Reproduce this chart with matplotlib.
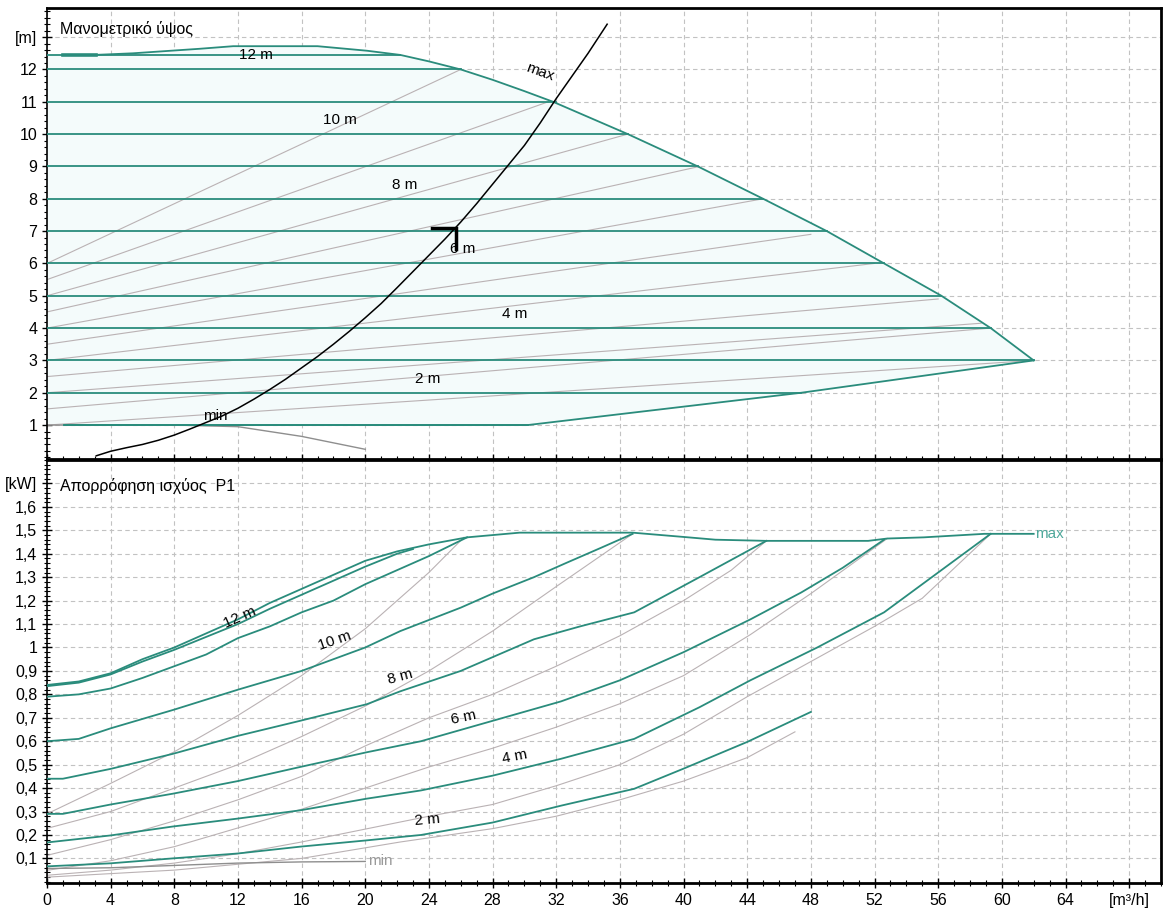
import numpy as np
import matplotlib
matplotlib.use("Agg")
import matplotlib.pyplot as plt
from matplotlib.ticker import MultipleLocator

plt.rcParams['font.family'] = ['Liberation Sans', 'DejaVu Sans']

TEAL = "#2a8c7c"
GREY = "#bab2b4"
DARKGREY = "#8e8e8e"

# ---------------- head chart data [m] vs flow [m3/h] ----------------
h_levels = [1, 2, 3, 4, 5, 6, 7, 8, 9, 10, 11, 12, 12.45]
h_start = [1.1, 0, 0, 0, 0, 0, 0, 0, 0, 0, 0, 0, 0]
h_end = [30.2, 47.4, 62, 59.3, 56.2, 52.6, 49, 45, 40.9, 36.5, 32, 26, 22.2]

max_q = [3, 5.4, 9.6, 11.7, 17, 20.1, 22.2, 24, 26, 28, 30, 31.8,
         36.5, 40.9, 45, 49, 52.6, 56.2, 59.3, 62]
max_h = [12.45, 12.5, 12.64, 12.72, 12.72, 12.58, 12.45, 12.25, 12.0, 11.68,
         11.33, 11.0, 10.0, 9.0, 8.0, 7.0, 6.0, 5.0, 4.0, 3.0]
low_q = [62, 47.4, 30.2, 1.1]
low_h = [3.0, 2.0, 1.0, 1.0]

# proportional-pressure curves (start head at Q=0, end point on envelope)
pp_h0 = [6, 5.5, 5, 4.5, 4, 3.5, 3, 2.5, 2, 1.5, 1]
pp_qe = [26, 31.5, 36.5, 41, 45, 48, 52, 56, 58.7, 59.3, 62]
pp_he = [12, 11, 10, 9, 8, 6.9, 6, 4.9, 4.15, 4.0, 3.0]

min_q = [0, 8, 12, 16, 20]
min_h = [1.0, 1.0, 0.95, 0.65, 0.25]

sys_q = [3.1, 4, 5, 6, 7, 8, 9, 10, 11, 12, 13, 14, 15, 16, 17, 18, 19, 20,
         21, 22, 23, 24, 25, 26, 27, 28, 29, 30, 31, 32, 33, 34, 35.2]
sys_h = [0.05, 0.19, 0.3, 0.4, 0.53, 0.69, 0.88, 1.08, 1.28, 1.52, 1.8, 2.1,
         2.42, 2.77, 3.12, 3.5, 3.9, 4.32, 4.76, 5.25, 5.75, 6.25, 6.75, 7.28,
         7.85, 8.45, 9.05, 9.65, 10.35, 11.1, 11.8, 12.5, 13.4]
duty_q, duty_h, duty_h_low, duty_q_left = 25.7, 7.1, 6.45, 24.2

head_labels = ["12 m", "10 m", "8 m", "6 m", "4 m", "2 m"]
head_lab_q = [13.1, 18.4, 22.5, 26.1, 29.4, 23.9]
head_lab_h = [12.45, 10.45, 8.44, 6.46, 4.45, 2.44]

# ---------------- power chart data [kW] ----------------
p_max_q = [0, 2, 4, 6, 8, 10, 12, 14, 16, 18, 20, 22, 24, 26.4, 29.7, 36.8,
           40.3, 42, 45.2, 51.6, 52.8, 55.1, 58.9, 62]
p_max_p = [0.84, 0.855, 0.89, 0.95, 1.0, 1.06, 1.12, 1.19, 1.25, 1.31, 1.37,
           1.41, 1.44, 1.47, 1.49, 1.49, 1.47, 1.46, 1.455, 1.455, 1.465,
           1.47, 1.485, 1.485]

p_curves_q = [
    [0, 2, 4, 6, 8, 10, 12, 14, 16, 18, 20, 22, 23],
    [0, 2, 4, 6, 8, 10, 12, 14, 16, 18, 20, 22, 24, 26.4],
    [0, 2, 4, 8, 12, 16, 18, 20, 22.2, 26, 28, 30.6, 32.6, 34.8, 36.8],
    [0, 1, 4, 7.9, 12, 15.9, 20.1, 22.2, 26, 30.6, 33.5, 36.9, 41, 45.2],
    [0, 1, 4, 7.9, 12, 15.9, 20.1, 23.5, 28, 32.3, 36, 40, 44.2, 47.4, 50, 52.6],
    [0, 4, 7.9, 12, 15.9, 20.1, 23.5, 28, 32.3, 36.9, 41, 44.2, 48.4, 52.6, 56, 59.3],
    [0, 4, 7.9, 12, 15.9, 20.1, 23.5, 28, 32.3, 36.9, 40, 44, 48],
]
p_curves_p = [
    [0.835, 0.85, 0.885, 0.94, 0.99, 1.045, 1.1, 1.165, 1.225, 1.285, 1.345, 1.40, 1.42],
    [0.79, 0.80, 0.825, 0.87, 0.92, 0.97, 1.04, 1.09, 1.15, 1.2, 1.27, 1.33, 1.39, 1.47],
    [0.60, 0.61, 0.655, 0.735, 0.82, 0.90, 0.95, 1.0, 1.07, 1.17, 1.23, 1.30, 1.36, 1.425, 1.485],
    [0.44, 0.44, 0.482, 0.546, 0.623, 0.687, 0.758, 0.813, 0.9, 1.035, 1.09, 1.15, 1.30, 1.455],
    [0.29, 0.29, 0.33, 0.376, 0.43, 0.49, 0.553, 0.60, 0.687, 0.77, 0.86, 0.98, 1.12, 1.235, 1.34, 1.46],
    [0.168, 0.198, 0.236, 0.27, 0.305, 0.355, 0.39, 0.453, 0.525, 0.61, 0.745, 0.86, 1.0, 1.15, 1.32, 1.485],
    [0.066, 0.079, 0.10, 0.121, 0.15, 0.177, 0.20, 0.253, 0.325, 0.397, 0.483, 0.597, 0.725],
]

pg_q = [
    [0, 4, 8, 12, 16, 20, 24, 26.2],
    [0, 4, 8, 12, 16, 20, 24, 28, 32, 36.8],
    [0, 4, 8, 12, 16, 20, 24, 28, 32, 36, 40, 43, 45.2],
    [0, 4, 8, 12, 16, 20, 24, 28, 32, 36, 40, 44.2, 48, 52.8],
    [0, 4, 8, 12, 16, 20, 24, 28, 32, 36, 40, 44, 48, 52, 55, 59.3],
    [0, 8, 16, 22.2, 28, 32, 36, 40, 44, 47],
]
pg_p = [
    [0.29, 0.42, 0.555, 0.71, 0.88, 1.08, 1.32, 1.47],
    [0.228, 0.30, 0.40, 0.50, 0.62, 0.75, 0.90, 1.07, 1.26, 1.485],
    [0.113, 0.18, 0.26, 0.35, 0.45, 0.58, 0.70, 0.80, 0.92, 1.05, 1.2, 1.33, 1.455],
    [0.049, 0.09, 0.15, 0.23, 0.31, 0.40, 0.49, 0.57, 0.66, 0.76, 0.88, 1.055, 1.23, 1.465],
    [0.028, 0.05, 0.08, 0.12, 0.17, 0.225, 0.28, 0.33, 0.41, 0.50, 0.63, 0.79, 0.94, 1.09, 1.21, 1.485],
    [0.02, 0.05, 0.10, 0.17, 0.227, 0.28, 0.35, 0.43, 0.53, 0.64],
]
p_min_q = [0, 4, 8, 12, 16, 20]
p_min_p = [0.057, 0.06, 0.07, 0.08, 0.085, 0.087]

power_labels = ["12 m", "10 m", "8 m", "6 m", "4 m", "2 m"]
power_lab_q = [12.1, 18.1, 22.2, 26.2, 29.4, 23.9]
power_lab_p = [1.128, 1.027, 0.873, 0.70, 0.533, 0.266]
power_lab_rot = [24, 19, 15, 12, 11, 5]

x_ticks = list(range(0, 69, 4))
x_labels = [str(v) for v in range(0, 65, 4)] + ["[m³/h]"]
h_ticks = list(range(1, 14))
h_tick_labels = [str(v) for v in range(1, 13)] + ["[m]"]
p_ticks = [round(0.1 * i, 1) for i in range(1, 18)]
p_tick_labels = [("%g" % v).replace(".", ",") for v in p_ticks[:-1]] + ["[kW]"]

# ---------------- figure ----------------
fig = plt.figure(figsize=(11.68, 9.14), dpi=100)
ax1 = fig.add_axes([0.0402, 0.4978, 0.9538, 0.4934])
ax2 = fig.add_axes([0.0402, 0.0334, 0.9538, 0.4633])


def style(ax):
    ax.set_xlim(0, 70)
    ax.set_xticks(x_ticks)
    ax.xaxis.set_minor_locator(MultipleLocator(1))
    ax.grid(True, which="major", color="#c2c2c2", linestyle=(0, (4, 3)), linewidth=0.8)
    ax.set_axisbelow(True)
    for side in ["top", "right", "bottom"]:
        ax.spines[side].set_linewidth(2)
    ax.spines["left"].set_linewidth(1.2)
    ax.tick_params(which="major", direction="inout", length=7, width=1, labelsize=11.5)
    ax.tick_params(which="minor", direction="inout", length=4, width=0.8)


style(ax1)
style(ax2)

# head chart
ax1.set_ylim(-0.05, 13.9)
ax1.set_yticks(h_ticks)
ax1.set_yticklabels(h_tick_labels)
ax1.yaxis.set_minor_locator(MultipleLocator(0.2))
ax1.set_xticklabels([])

env_q = [0] + max_q + low_q + [0]
env_h = [12.45] + max_h + low_h + [1.0]
ax1.fill(env_q, env_h, color="#f4fbfb", zorder=1, linewidth=0)

for h0, qe, he in zip(pp_h0, pp_qe, pp_he):
    ax1.plot([0, qe], [h0, he], color=GREY, lw=0.8, zorder=2)
ax1.plot(min_q, min_h, color=DARKGREY, lw=1.0, zorder=2)

for h, q0, q1 in zip(h_levels, h_start, h_end):
    ax1.plot([q0, q1], [h, h], color=TEAL, lw=1.3, zorder=3)
ax1.plot(max_q, max_h, color=TEAL, lw=1.3, zorder=3)
ax1.plot(low_q, low_h, color=TEAL, lw=1.3, zorder=3)
ax1.plot([1.0, 3.1], [12.45, 12.45], color=TEAL, lw=2.6, zorder=3)

ax1.plot(sys_q, sys_h, color="black", lw=1.1, zorder=4)
ax1.plot([duty_q_left, duty_q, duty_q], [duty_h, duty_h, duty_h_low],
         color="black", lw=2.5, zorder=5, solid_joinstyle="miter")

for t, q, h in zip(head_labels, head_lab_q, head_lab_h):
    ax1.text(q, h, t, fontsize=11, ha="center", va="center", zorder=6)
ax1.text(31.0, 11.93, "max", fontsize=11, rotation=-20, ha="center", va="center", zorder=6)
ax1.text(10.6, 1.27, "min", fontsize=11, ha="center", va="center", zorder=6)
ax1.text(0.8, 13.25, "Μανομετρικό ύψος", fontsize=11.5, ha="left", va="center")

# power chart
ax2.set_ylim(-0.007, 1.80)
ax2.set_yticks(p_ticks)
ax2.set_yticklabels(p_tick_labels)
ax2.yaxis.set_minor_locator(MultipleLocator(0.02))
ax2.set_xticklabels(x_labels)

for q, p in zip(pg_q, pg_p):
    ax2.plot(q, p, color=GREY, lw=0.8, zorder=2)
ax2.plot(p_min_q, p_min_p, color=DARKGREY, lw=1.0, zorder=2)
ax2.text(20.2, p_min_p[-1], "min", fontsize=11, color="#9a9a9a", ha="left", va="center")

for q, p in zip(p_curves_q, p_curves_p):
    ax2.plot(q, p, color=TEAL, lw=1.3, zorder=3)
ax2.plot(p_max_q, p_max_p, color=TEAL, lw=1.3, zorder=3)
ax2.text(62.1, p_max_p[-1], "max", fontsize=11, color="#4fa89b", ha="left", va="center")

for t, q, p, r in zip(power_labels, power_lab_q, power_lab_p, power_lab_rot):
    ax2.text(q, p, t, fontsize=11, rotation=r, ha="center", va="center", zorder=6)
ax2.text(0.8, 1.69, "Απορρόφηση ισχύος  P1", fontsize=11.5, ha="left", va="center")

fig.savefig("out.png", dpi=100)
